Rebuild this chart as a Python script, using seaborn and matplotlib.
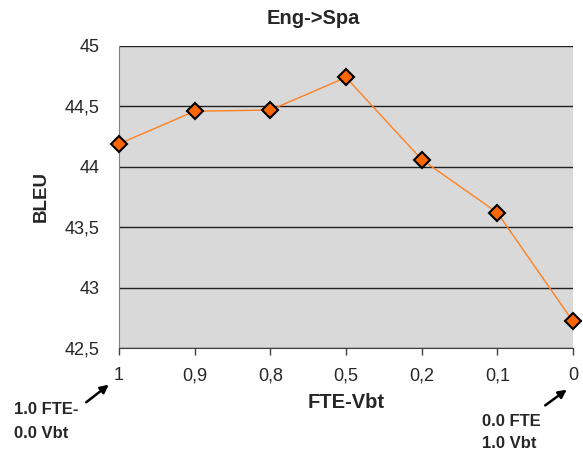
import matplotlib
matplotlib.use("Agg")
import matplotlib.pyplot as plt
import seaborn as sns
import pandas as pd

categories = ["1", "0,9", "0,8", "0,5", "0,2", "0,1", "0"]
bleu = [44.19, 44.46, 44.47, 44.74, 44.06, 43.62, 42.72]
yticks = [42.5, 43.0, 43.5, 44.0, 44.5, 45.0]
ytick_labels = ["42,5", "43", "43,5", "44", "44,5", "45"]

sns.set_style("white")
plt.rcParams["font.family"] = ["Liberation Sans", "DejaVu Sans"]

W, H = 583, 454
fig = plt.figure(figsize=(W / 100, H / 100), dpi=100)
ax = fig.add_axes([119 / W, 1 - 348 / H, (573 - 119) / W, (348 - 46) / H])
ax.set_facecolor("#D9D9D9")

df = pd.DataFrame({"x": categories, "y": bleu})
sns.lineplot(data=df, x="x", y="y", sort=False, ax=ax, color="#FF8020",
             linewidth=1.0, marker="D", markersize=8,
             markerfacecolor="#FF6600", markeredgecolor="black",
             markeredgewidth=1.5, zorder=5, clip_on=False)

ax.set_xlim(0, len(categories) - 1)
ax.set_ylim(42.5, 45)
ax.set_yticks(yticks)
ax.set_yticklabels(ytick_labels)
ax.set_xticks(range(len(categories)))
ax.set_xticklabels(categories)
ax.yaxis.grid(True, color="#202020", linewidth=1.0)
ax.set_axisbelow(True)
for s in ["top", "right"]:
    ax.spines[s].set_visible(False)
ax.spines["left"].set_color("#808080")
ax.spines["bottom"].set_color("#404040")
ax.tick_params(axis="y", left=False, length=0, labelsize=13, pad=14)
ax.tick_params(axis="x", bottom=True, length=5, width=1, color="#404040",
               direction="out", labelsize=13, pad=9)
ax.set_xlabel("")
ax.set_ylabel("")


def px(x, y):
    return x / W, 1 - y / H


fig.text(*px(313, 18), "Eng->Spa", ha="center", va="center", fontsize=14.5, fontweight="bold")
fig.text(*px(41, 197), "BLEU", ha="center", va="center", rotation=90, fontsize=13.5, fontweight="bold")
fig.text(*px(346, 403), "FTE-Vbt", ha="center", va="center", fontsize=14.5, fontweight="bold")
fig.text(*px(14, 410), "1.0 FTE-", ha="left", va="center", fontsize=12, fontweight="bold")
fig.text(*px(14, 433), "0.0 Vbt", ha="left", va="center", fontsize=12, fontweight="bold")
fig.text(*px(482, 421), "0.0 FTE", ha="left", va="center", fontsize=12, fontweight="bold")
fig.text(*px(482, 443), "1.0 Vbt", ha="left", va="center", fontsize=12, fontweight="bold")

arrow = dict(arrowstyle="-|>", color="black", lw=1.8, mutation_scale=12)
fig.add_artist(matplotlib.patches.FancyArrowPatch(px(84, 404), px(111, 383),
               transform=fig.transFigure, **arrow))
fig.add_artist(matplotlib.patches.FancyArrowPatch(px(543, 407), px(569, 388),
               transform=fig.transFigure, **arrow))

fig.savefig("out.png", dpi=100)
